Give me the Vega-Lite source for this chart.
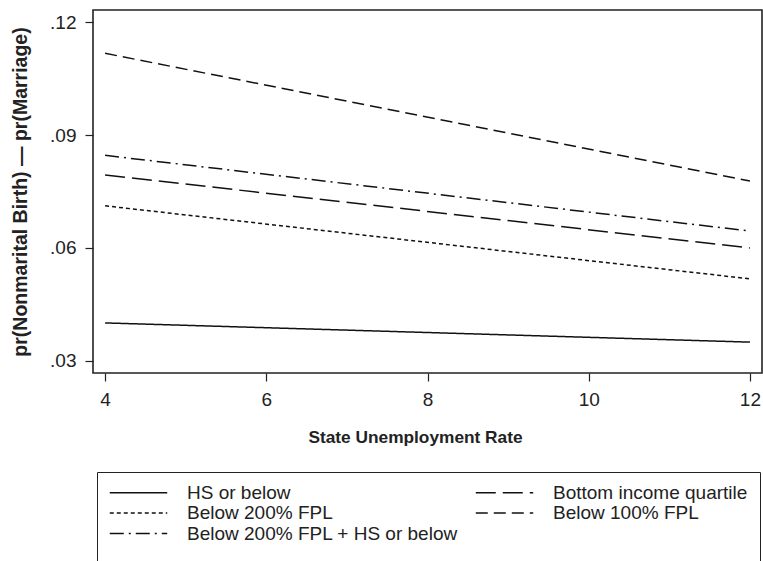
{
  "$schema": "https://vega.github.io/schema/vega-lite/v6.json",
  "width": 669,
  "height": 363,
  "autosize": {"type": "none"},
  "padding": {"left": 93, "top": 10, "right": 1, "bottom": 188},
  "background": "white",
  "config": {
    "font": "Liberation Sans",
    "view": {"stroke": "#222", "strokeWidth": 1.6},
    "axis": {"grid": false, "domain": false, "tickColor": "#222", "tickSize": 8, "tickWidth": 1.2, "labelColor": "#222", "titleColor": "#222", "labelFontSize": 19, "titleFontSize": 17.3, "titleFontWeight": "bold", "labelFont": "Liberation Sans", "titleFont": "Liberation Sans"}
  },
  "data": {
    "values": [
      {"rate": 4, "value": 0.0401, "group": "HS or below"},
      {"rate": 12, "value": 0.0350, "group": "HS or below"},
      {"rate": 4, "value": 0.0794, "group": "Bottom income quartile"},
      {"rate": 12, "value": 0.0600, "group": "Bottom income quartile"},
      {"rate": 4, "value": 0.0712, "group": "Below 200% FPL"},
      {"rate": 12, "value": 0.0518, "group": "Below 200% FPL"},
      {"rate": 4, "value": 0.1117, "group": "Below 100% FPL"},
      {"rate": 12, "value": 0.0778, "group": "Below 100% FPL"},
      {"rate": 4, "value": 0.0846, "group": "Below 200% FPL + HS or below"},
      {"rate": 12, "value": 0.0645, "group": "Below 200% FPL + HS or below"}
    ]
  },
  "mark": {"type": "line", "stroke": "#111", "strokeWidth": 1.5},
  "encoding": {
    "x": {
      "field": "rate", "type": "quantitative",
      "scale": {"domain": [3.85, 12.15], "nice": false, "zero": false},
      "axis": {"values": [4, 6, 8, 10, 12], "title": "State Unemployment Rate", "labelPadding": 9, "titleX": 322, "titleAlign": "center", "titleY": 64, "titleBaseline": "middle"}
    },
    "y": {
      "field": "value", "type": "quantitative",
      "scale": {"domain": [0.0268, 0.1232], "nice": false, "zero": false},
      "axis": {"values": [0.03, 0.06, 0.09, 0.12], "labelExpr": "substring(format(datum.value, '.2f'), 1)", "labelPadding": 9, "title": "pr(Nonmarital Birth) — pr(Marriage)", "titleFontSize": 19.5, "titleX": -73, "titleBaseline": "middle"}
    },
    "strokeDash": {
      "field": "group", "type": "nominal",
      "scale": {
        "domain": ["HS or below", "Bottom income quartile", "Below 200% FPL", "Below 100% FPL", "Below 200% FPL + HS or below"],
        "range": [[1, 0], [20, 7], [4, 3], [12, 6], [14, 5, 2, 5]]
      },
      "legend": {
        "title": " ",
        "titleOrient": "bottom",
        "titleFontSize": 20,
        "titlePadding": 8,
        "orient": "none",
        "direction": "horizontal",
        "legendX": 4,
        "legendY": 462,
        "columns": 2,
        "columnPadding": 17,
        "rowPadding": 0.5,
        "clipHeight": 17,
        "padding": 12,
        "strokeColor": "#222",
        "symbolType": "stroke",
        "symbolSize": 3300,
        "symbolStrokeWidth": 1.4,
        "symbolStrokeColor": "#111",
        "labelFontSize": 19,
        "labelOffset": 19,
        "labelColor": "#222",
        "labelLimit": 400
      }
    }
  }
}
